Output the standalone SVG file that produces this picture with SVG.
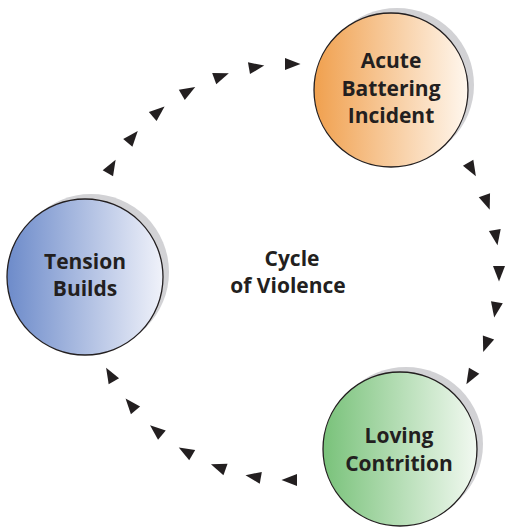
<svg xmlns="http://www.w3.org/2000/svg" width="512" height="532" viewBox="0 0 512 532">
<defs>
<linearGradient id="gOrange" x1="0" y1="0" x2="1" y2="0"><stop offset="0" stop-color="#F0A04E"/><stop offset="1" stop-color="#FFF7EE"/></linearGradient>
<linearGradient id="gBlue" x1="0" y1="0" x2="1" y2="0"><stop offset="0" stop-color="#6D8BCA"/><stop offset="1" stop-color="#F0F2FA"/></linearGradient>
<linearGradient id="gGreen" x1="0" y1="0" x2="1" y2="0"><stop offset="0" stop-color="#79C27A"/><stop offset="1" stop-color="#F2F9F1"/></linearGradient>
<path id="ah" d="M9.5,0 L-6,-6 L-6,6 Z"/>
</defs>
<style>
.shadow{fill:#D2D2D5}
.node{stroke:#231F20;stroke-width:1.3}
.label{font-family:"Open Sans","Liberation Sans",sans-serif;font-weight:700;font-size:21px;fill:#231F20;text-anchor:middle}
.arrow{fill:#231F20}
</style>
<rect width="512" height="532" fill="#FFFFFF"/>
<g id="connectors" class="arrow">
<use href="#ah" transform="translate(291,272) rotate(-150) translate(208,0) rotate(90)"/>
<use href="#ah" transform="translate(291,272) rotate(-140) translate(208,0) rotate(90)"/>
<use href="#ah" transform="translate(291,272) rotate(-130) translate(208,0) rotate(90)"/>
<use href="#ah" transform="translate(291,272) rotate(-120) translate(208,0) rotate(90)"/>
<use href="#ah" transform="translate(291,272) rotate(-110) translate(208,0) rotate(90)"/>
<use href="#ah" transform="translate(291,272) rotate(-100) translate(208,0) rotate(90)"/>
<use href="#ah" transform="translate(291,272) rotate(-90) translate(208,0) rotate(90)"/>
<use href="#ah" transform="translate(291,272) rotate(-30) translate(208,0) rotate(90)"/>
<use href="#ah" transform="translate(291,272) rotate(-20) translate(208,0) rotate(90)"/>
<use href="#ah" transform="translate(291,272) rotate(-10) translate(208,0) rotate(90)"/>
<use href="#ah" transform="translate(291,272) rotate(0) translate(208,0) rotate(90)"/>
<use href="#ah" transform="translate(291,272) rotate(10) translate(208,0) rotate(90)"/>
<use href="#ah" transform="translate(291,272) rotate(20) translate(208,0) rotate(90)"/>
<use href="#ah" transform="translate(291,272) rotate(30) translate(208,0) rotate(90)"/>
<use href="#ah" transform="translate(291,272) rotate(90) translate(208,0) rotate(90)"/>
<use href="#ah" transform="translate(291,272) rotate(100) translate(208,0) rotate(90)"/>
<use href="#ah" transform="translate(291,272) rotate(110) translate(208,0) rotate(90)"/>
<use href="#ah" transform="translate(291,272) rotate(120) translate(208,0) rotate(90)"/>
<use href="#ah" transform="translate(291,272) rotate(130) translate(208,0) rotate(90)"/>
<use href="#ah" transform="translate(291,272) rotate(140) translate(208,0) rotate(90)"/>
<use href="#ah" transform="translate(291,272) rotate(150) translate(208,0) rotate(90)"/>
</g>
<g id="acute">
<circle class="shadow" cx="397" cy="85" r="77"/>
<circle class="node" cx="391" cy="90" r="77" fill="url(#gOrange)"/>
<text class="label" x="391" y="68">Acute</text>
<text class="label" x="391" y="96">Battering</text>
<text class="label" x="391" y="123">Incident</text>
</g>
<g id="tension">
<circle class="shadow" cx="91" cy="272" r="78"/>
<circle class="node" cx="85" cy="277" r="78" fill="url(#gBlue)"/>
<text class="label" x="85" y="269">Tension</text>
<text class="label" x="85" y="296">Builds</text>
</g>
<g id="loving">
<circle class="shadow" cx="406" cy="444" r="77"/>
<circle class="node" cx="400" cy="449" r="77" fill="url(#gGreen)"/>
<text class="label" x="399" y="443">Loving</text>
<text class="label" x="399" y="471">Contrition</text>
</g>
<g id="center-label">
<text class="label" x="292" y="266" font-size="20">Cycle</text>
<text class="label" x="288" y="293" font-size="20">of Violence</text>
</g>
</svg>
